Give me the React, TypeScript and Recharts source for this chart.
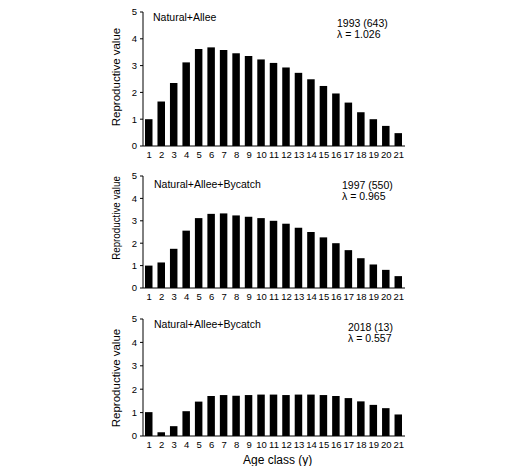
import { FC } from 'react';
import { BarChart, Bar, XAxis, YAxis } from 'recharts';

const ages = [1, 2, 3, 4, 5, 6, 7, 8, 9, 10, 11, 12, 13, 14, 15, 16, 17, 18, 19, 20, 21];
const v1993 = [1.0, 1.66, 2.35, 3.12, 3.62, 3.68, 3.58, 3.46, 3.36, 3.23, 3.1, 2.93, 2.73, 2.49, 2.24, 1.96, 1.62, 1.26, 1.0, 0.75, 0.48];
const v1997 = [1.0, 1.14, 1.75, 2.56, 3.12, 3.31, 3.33, 3.24, 3.18, 3.12, 3.0, 2.87, 2.69, 2.5, 2.26, 2.0, 1.69, 1.33, 1.05, 0.81, 0.53];
const v2018 = [1.02, 0.16, 0.42, 1.06, 1.47, 1.71, 1.75, 1.72, 1.75, 1.77, 1.77, 1.75, 1.77, 1.77, 1.75, 1.71, 1.62, 1.48, 1.33, 1.19, 0.92];
const yTicks = [0, 1, 2, 3, 4, 5];

const FONT = '"Liberation Sans", Arial, sans-serif';
const edgeTicks = [0.5, ...ages.map((a) => a + 0.5)];

const Panel: FC<{
  values: number[];
  top: number;
  height: number;
  marginTop: number;
  plotHeight: number;
}> = ({ values, top, height, marginTop, plotHeight }) => {
  const data = ages.map((age, i) => ({ age, value: values[i] }));
  const bottom = height - marginTop - plotHeight - 20;
  return (
    <div style={{ position: 'absolute', left: 0, top }}>
      <BarChart
        width={528}
        height={height}
        data={data}
        margin={{ top: marginTop, right: 123, bottom, left: 103 }}
      >
        <XAxis
          xAxisId="marks"
          type="number"
          dataKey="age"
          domain={[0.5, 21.5]}
          ticks={edgeTicks}
          tick={false}
          tickSize={3}
          tickLine={{ stroke: '#000' }}
          axisLine={false}
          height={0}
        />
        <XAxis
          xAxisId="lab"
          type="number"
          dataKey="age"
          domain={[0.5, 21.5]}
          ticks={ages}
          interval={0}
          tickLine={false}
          tickSize={3}
          tickMargin={2}
          axisLine={{ stroke: '#000' }}
          tick={{ fill: '#000', fontSize: 9.5, fontFamily: FONT }}
          height={20}
        />
        <YAxis
          type="number"
          domain={[0, 5]}
          ticks={yTicks}
          width={40}
          tickSize={3}
          tickMargin={3}
          axisLine={{ stroke: '#000' }}
          tickLine={{ stroke: '#000' }}
          tick={{ fill: '#000', fontSize: 9.5, fontFamily: FONT }}
        />
        <Bar
          xAxisId="lab"
          dataKey="value"
          fill="#000"
          barSize={7.5}
          isAnimationActive={false}
        />
      </BarChart>
    </div>
  );
};

const Note: FC<{ x: number; y: number; size?: number; children: string }> = ({
  x,
  y,
  size = 10.5,
  children
}) => (
  <div
    style={{
      position: 'absolute',
      left: x,
      top: y - size / 2,
      fontSize: size,
      lineHeight: 1,
      fontFamily: FONT,
      whiteSpace: 'nowrap',
      color: '#000'
    }}
  >
    {children}
  </div>
);

const YLabel: FC<{ y: number; squash?: number }> = ({ y, squash = 1 }) => (
  <div
    style={{
      position: 'absolute',
      left: 117,
      top: y,
      transform: `translate(-50%, -50%) rotate(-90deg) scaleX(${squash})`,
      fontSize: 11.5,
      lineHeight: 1,
      fontFamily: FONT,
      whiteSpace: 'nowrap',
      color: '#000'
    }}
  >
    Reproductive value
  </div>
);

export default function App() {
  return (
    <div
      style={{
        position: 'relative',
        width: 528,
        height: 474,
        margin: -8,
        background: '#fff',
        overflow: 'hidden'
      }}
    >
      <Panel values={v1993} top={0} height={170} marginTop={12} plotHeight={134} />
      <Panel values={v1997} top={165} height={145} marginTop={11} plotHeight={112} />
      <Panel values={v2018} top={305} height={169} marginTop={14} plotHeight={117} />

      <YLabel y={77} />
      <YLabel y={218} squash={0.85} />
      <YLabel y={378} />

      <Note x={153} y={17}>Natural+Allee</Note>
      <Note x={337} y={23}>1993 (643)</Note>
      <Note x={337} y={34}>λ = 1.026</Note>

      <Note x={154} y={184}>Natural+Allee+Bycatch</Note>
      <Note x={342} y={185}>1997 (550)</Note>
      <Note x={342} y={196}>λ = 0.965</Note>

      <Note x={154} y={324}>Natural+Allee+Bycatch</Note>
      <Note x={348} y={327}>2018 (13)</Note>
      <Note x={348} y={338}>λ = 0.557</Note>

      <Note x={243} y={460} size={12}>Age class (y)</Note>
    </div>
  );
}
